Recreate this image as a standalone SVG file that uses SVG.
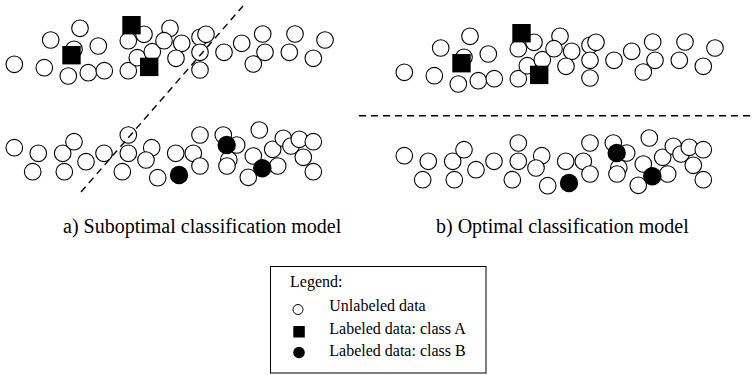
<svg xmlns="http://www.w3.org/2000/svg" xmlns:xlink="http://www.w3.org/1999/xlink" width="753" height="375" viewBox="0 0 753 375">
<style>
  .u{fill:#fff;stroke:#000;stroke-width:1.1}
  .b{fill:#000}
  .a{fill:#000}
  .d{fill:none;stroke:#000;stroke-width:1.4;stroke-dasharray:7,5}
  text{font-family:"Liberation Serif","Times New Roman",serif;fill:#000}
  .lbl{font-size:20px}
  .lg{font-size:16px}
</style>
<defs>
  <g id="top">
    <g class="u-set">
      <circle class="u" cx="14.3" cy="64.3" r="8.3"/>
      <circle class="u" cx="44.3" cy="67.7" r="8.3"/>
      <circle class="u" cx="50.7" cy="40" r="8.3"/>
      <circle class="u" cx="80" cy="28.3" r="8.3"/>
      <circle class="u" cx="74" cy="49.3" r="8.3"/>
      <circle class="u" cx="68.3" cy="76" r="8.3"/>
      <circle class="u" cx="88.3" cy="72.7" r="8.3"/>
      <circle class="u" cx="98.3" cy="46" r="8.3"/>
      <circle class="u" cx="104.3" cy="70.7" r="8.3"/>
      <circle class="u" cx="128.3" cy="70.7" r="8.3"/>
      <circle class="u" cx="128.3" cy="40.7" r="8.3"/>
      <circle class="u" cx="144" cy="34.3" r="8.3"/>
      <circle class="u" cx="137.3" cy="57.7" r="8.3"/>
      <circle class="u" cx="152.3" cy="51.7" r="8.3"/>
      <circle class="u" cx="170" cy="28.3" r="8.3"/>
      <circle class="u" cx="164" cy="40.7" r="8.3"/>
      <circle class="u" cx="181.7" cy="43.3" r="8.3"/>
      <circle class="u" cx="176" cy="58.3" r="8.3"/>
      <circle class="u" cx="200" cy="37.3" r="8.3"/>
      <circle class="u" cx="206" cy="34.3" r="8.3"/>
      <circle class="u" cx="200" cy="52.3" r="8.3"/>
      <circle class="u" cx="200" cy="70" r="8.3"/>
      <circle class="u" cx="224" cy="52.3" r="8.3"/>
      <circle class="u" cx="241.7" cy="43.3" r="8.3"/>
      <circle class="u" cx="262.7" cy="34" r="8.3"/>
      <circle class="u" cx="253.3" cy="64" r="8.3"/>
      <circle class="u" cx="265" cy="52.3" r="8.3"/>
      <circle class="u" cx="295" cy="34" r="8.3"/>
      <circle class="u" cx="289.3" cy="52.3" r="8.3"/>
      <circle class="u" cx="325" cy="40" r="8.3"/>
      <circle class="u" cx="313.3" cy="58.3" r="8.3"/>
    </g>
    <rect class="a" x="122.3" y="16" width="18.4" height="18.4"/>
    <rect class="a" x="62.3" y="46" width="18.4" height="18.4"/>
    <rect class="a" x="140" y="57.7" width="18.4" height="18.4"/>
  </g>
  <g id="bottom">
    <circle class="u" cx="14.3" cy="147.7" r="8.3"/>
    <circle class="u" cx="38.3" cy="153.3" r="8.3"/>
    <circle class="u" cx="32.7" cy="171.7" r="8.3"/>
    <circle class="u" cx="62.7" cy="153.3" r="8.3"/>
    <circle class="u" cx="74" cy="141.7" r="8.3"/>
    <circle class="u" cx="64.3" cy="171.7" r="8.3"/>
    <circle class="u" cx="86" cy="161.7" r="8.3"/>
    <circle class="u" cx="104" cy="153.3" r="8.3"/>
    <circle class="u" cx="128.3" cy="135" r="8.3"/>
    <circle class="u" cx="128.3" cy="153.3" r="8.3"/>
    <circle class="u" cx="122.3" cy="171.7" r="8.3"/>
    <circle class="u" cx="151.7" cy="147.7" r="8.3"/>
    <circle class="u" cx="146" cy="160" r="8.3"/>
    <circle class="u" cx="157.7" cy="177.7" r="8.3"/>
    <circle class="u" cx="175.7" cy="153.3" r="8.3"/>
    <circle class="u" cx="193.3" cy="153.3" r="8.3"/>
    <circle class="u" cx="200" cy="135" r="8.3"/>
    <circle class="u" cx="200" cy="166" r="8.3"/>
    <circle class="u" cx="223.3" cy="135" r="8.3"/>
    <circle class="u" cx="236.7" cy="145" r="8.3"/>
    <circle class="u" cx="228.8" cy="159.8" r="8.3"/>
    <circle class="u" cx="227" cy="166" r="8.3"/>
    <circle class="u" cx="259.3" cy="130" r="8.3"/>
    <circle class="u" cx="253.3" cy="156" r="8.3"/>
    <circle class="u" cx="248.3" cy="177.3" r="8.3"/>
    <circle class="u" cx="277.7" cy="166" r="8.3"/>
    <circle class="u" cx="272.7" cy="149.3" r="8.3"/>
    <circle class="u" cx="283.3" cy="138.3" r="8.3"/>
    <circle class="u" cx="291" cy="146" r="8.3"/>
    <circle class="u" cx="299.3" cy="139.3" r="8.3"/>
    <circle class="u" cx="313.3" cy="141.7" r="8.3"/>
    <circle class="u" cx="303.3" cy="157.3" r="8.3"/>
    <circle class="u" cx="313.3" cy="171.7" r="8.3"/>
    <circle class="b" cx="179" cy="175" r="9.2"/>
    <circle class="b" cx="226.7" cy="145" r="9.2"/>
    <circle class="b" cx="262.3" cy="168.3" r="9.2"/>
  </g>
</defs>

<g id="panel-a">
  <use xlink:href="#top" href="#top"/>
  <use xlink:href="#bottom" href="#bottom"/>
</g>
<g id="panel-b" transform="translate(390,8)">
  <use xlink:href="#top" href="#top"/>
  <use xlink:href="#bottom" href="#bottom"/>
</g>

<g id="connectors">
  <line class="d" x1="81" y1="192" x2="243" y2="6"/>
  <line class="d" x1="359" y1="115.7" x2="753" y2="115.7"/>
</g>

<g id="labels">
  <text class="lbl" x="63" y="233">a) Suboptimal classification model</text>
  <text class="lbl" x="436" y="233">b) Optimal classification model</text>
</g>

<g id="legend">
  <rect x="270.5" y="266.5" width="215.5" height="106.5" fill="#fff" stroke="#000" stroke-width="1"/>
  <text class="lg" x="290" y="287">Legend:</text>
  <circle cx="298" cy="309.5" r="5" fill="#fff" stroke="#000" stroke-width="1"/>
  <text class="lg" x="329.3" y="310.7">Unlabeled data</text>
  <rect x="293.3" y="326" width="11.5" height="11.5" fill="#000"/>
  <text class="lg" x="329.3" y="333.5">Labeled data: class A</text>
  <circle cx="299" cy="352.5" r="5.8" fill="#000"/>
  <text class="lg" x="329.3" y="356">Labeled data: class B</text>
</g>
</svg>
